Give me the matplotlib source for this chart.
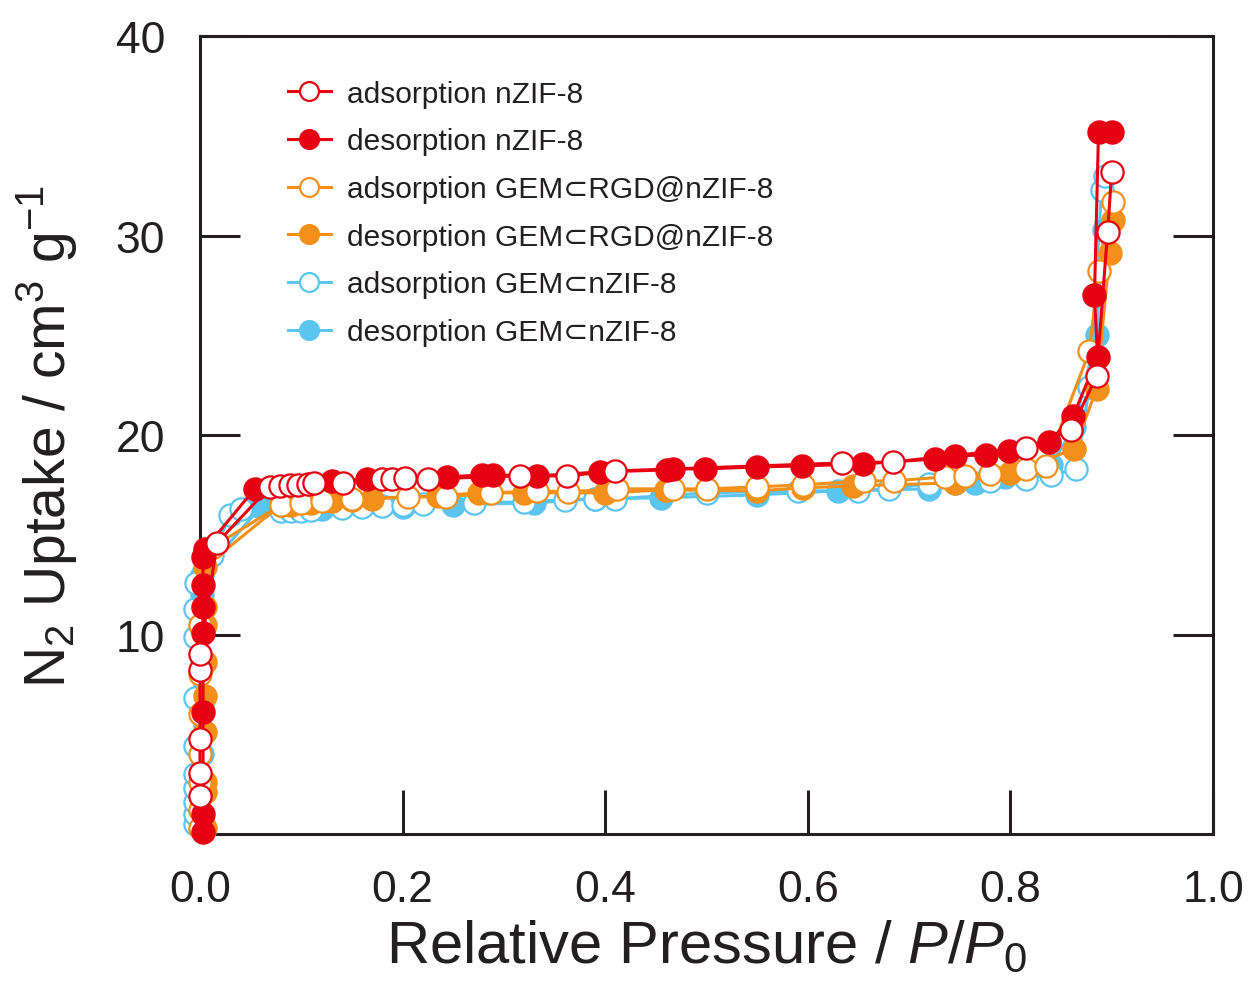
import matplotlib
matplotlib.use('Agg')
import matplotlib.pyplot as plt

plt.rcParams['font.family'] = ['Liberation Sans', 'DejaVu Sans']
plt.rcParams['mathtext.fontset'] = 'custom'
plt.rcParams['mathtext.rm'] = 'Liberation Sans'
plt.rcParams['mathtext.it'] = 'Liberation Sans:italic'

red = '#E60012'
orange = '#F39019'
blue = '#5BC5F0'

# nZIF-8
ads_red_x = [0.0, 0.0, 0.0, 0.0, 0.0, 0.017, 0.069, 0.079, 0.089, 0.097,
             0.107, 0.113, 0.141, 0.18, 0.19, 0.202, 0.225, 0.316, 0.362, 0.41,
             0.634, 0.684, 0.815, 0.86, 0.885, 0.896, 0.9]
ads_red_y = [1.9, 3.05, 4.75, 8.2, 9.0, 14.6, 17.4, 17.45, 17.5, 17.5,
             17.55, 17.6, 17.6, 17.8, 17.8, 17.85, 17.8, 17.95, 17.95, 18.2,
             18.6, 18.65, 19.35, 20.25, 22.95, 30.2, 33.2]
des_red_x = [0.9, 0.887, 0.883, 0.886, 0.862, 0.838, 0.799, 0.776, 0.745, 0.726,
             0.654, 0.594, 0.55, 0.499, 0.467, 0.461, 0.395, 0.333, 0.289, 0.278,
             0.244, 0.165, 0.13, 0.054, 0.005, 0.003, 0.003, 0.003, 0.003, 0.003,
             0.003, 0.003]
des_red_y = [35.2, 35.2, 27.0, 23.9, 20.95, 19.65, 19.2, 19.0, 18.95, 18.8,
             18.55, 18.45, 18.4, 18.3, 18.3, 18.25, 18.15, 17.95, 18.0, 18.0,
             17.9, 17.8, 17.7, 17.3, 14.3, 13.9, 12.5, 11.4, 10.1, 6.1,
             1.0, 0.1]

# GEM⊂RGD@nZIF-8
ads_or_x = [0.0, 0.0, 0.0, 0.0, 0.0, 0.0, 0.0, 0.013, 0.08, 0.1,
            0.12, 0.15, 0.205, 0.243, 0.287, 0.333, 0.363, 0.412, 0.467, 0.5,
            0.55, 0.595, 0.655, 0.685, 0.735, 0.755, 0.78, 0.815, 0.835, 0.878,
            0.887, 0.901]
ads_or_y = [0.3, 1.2, 2.6, 4.0, 6.0, 8.0, 10.5, 14.4, 16.5, 16.6,
            16.7, 16.8, 16.9, 16.9, 17.1, 17.2, 17.15, 17.3, 17.3, 17.3,
            17.4, 17.5, 17.7, 17.7, 17.9, 17.95, 18.05, 18.3, 18.45, 24.2,
            28.2, 31.7]
des_or_x = [0.901, 0.898, 0.885, 0.863, 0.8, 0.745, 0.645, 0.595, 0.55, 0.46,
            0.4, 0.32, 0.275, 0.235, 0.17, 0.15, 0.13, 0.11, 0.09, 0.08,
            0.005, 0.005, 0.005, 0.005, 0.005, 0.005, 0.005, 0.005, 0.005]
des_or_y = [30.8, 29.1, 22.3, 19.3, 18.1, 17.6, 17.45, 17.35, 17.2, 17.25,
            17.1, 17.1, 17.1, 16.95, 16.8, 16.75, 16.7, 16.6, 16.5, 16.5,
            13.4, 11.4, 10.5, 8.6, 6.9, 5.1, 2.6, 2.1, 0.3]

# GEM⊂nZIF-8
ads_bl_x = [-0.005, -0.005, -0.005, -0.005, -0.005, -0.005, -0.005, -0.005, -0.005, -0.004,
            0.012, 0.03, 0.04, 0.08, 0.09, 0.1, 0.11, 0.14, 0.16, 0.18,
            0.2, 0.22, 0.27, 0.32, 0.36, 0.39, 0.41, 0.5, 0.59, 0.65,
            0.68, 0.72, 0.745, 0.78, 0.815, 0.84, 0.865, 0.878, 0.89, 0.893]
ads_bl_y = [0.5, 1.0, 1.6, 2.3, 3.0, 4.4, 6.8, 9.9, 11.3, 12.6,
            14.0, 16.0, 16.3, 16.2, 16.2, 16.2, 16.25, 16.35, 16.4, 16.45,
            16.5, 16.55, 16.6, 16.65, 16.75, 16.8, 16.8, 17.1, 17.2, 17.2,
            17.3, 17.55, 17.6, 17.7, 17.8, 18.0, 18.3, 22.4, 32.3, 33.0]
des_bl_x = [0.892, 0.885, 0.863, 0.84, 0.795, 0.765, 0.72, 0.63, 0.55, 0.455,
            0.39, 0.33, 0.25, 0.2, 0.12, 0.06, 0.002, 0.002, 0.002, 0.002,
            0.002, 0.002, 0.002, 0.002]
des_bl_y = [30.3, 25.0, 20.4, 18.5, 17.9, 17.6, 17.3, 17.2, 17.0, 16.85,
            16.8, 16.6, 16.5, 16.4, 16.3, 16.4, 13.0, 12.0, 10.5, 8.5,
            6.5, 4.0, 2.0, 0.5]

labels = ['adsorption nZIF-8', 'desorption nZIF-8',
          'adsorption GEM\u2282RGD@nZIF-8', 'desorption GEM\u2282RGD@nZIF-8',
          'adsorption GEM\u2282nZIF-8', 'desorption GEM\u2282nZIF-8']

fig = plt.figure(figsize=(12.5, 9.95), dpi=100)
ax = fig.add_axes([0.16, 0.1608, 0.8104, 0.802])

ms = 16
lw = 2.2
mew = 1.6

def series(x, y, c, filled, label, z):
    fc = c if filled else 'white'
    ln, = ax.plot(x, y, '-o', color=c, lw=lw, ms=ms, mfc=fc, mec=c, mew=mew,
                  label=label, zorder=z, clip_on=False)
    return ln

h6 = series(des_bl_x, des_bl_y, blue, True, labels[5], 2)
h5 = series(ads_bl_x, ads_bl_y, blue, False, labels[4], 3)
h4 = series(des_or_x, des_or_y, orange, True, labels[3], 4)
h3 = series(ads_or_x, ads_or_y, orange, False, labels[2], 5)
h2 = series(des_red_x, des_red_y, red, True, labels[1], 6)
h1 = series(ads_red_x, ads_red_y, red, False, labels[0], 7)

ax.set_xlim(0, 1)
ax.set_ylim(0, 40)
ax.set_xticks([0, 0.2, 0.4, 0.6, 0.8, 1.0])
ax.set_xticklabels(['0.0', '0.2', '0.4', '0.6', '0.8', '1.0'])
ax.set_yticks([10, 20, 30, 40])
ax.tick_params(axis='y', direction='in', length=29, width=2.2, labelsize=32,
               pad=25, right=True, colors='#231F20')
ax.tick_params(axis='x', direction='in', length=32, width=2.2, labelsize=32,
               pad=25, colors='#231F20')
for s in ax.spines.values():
    s.set_linewidth(2.2)
    s.set_color('#231F20')

ax.set_xlabel('Relative Pressure / $P$/$P_0$', fontsize=43, color='#231F20',
              labelpad=6)
ax.set_ylabel('N$_2$ Uptake / cm$^3$ g$^{-1}$', fontsize=41, color='#231F20',
              labelpad=26)

leg = ax.legend(handles=[h1, h2, h3, h4, h5, h6], loc='upper left',
                bbox_to_anchor=(0.06, 0.979), frameon=False, fontsize=21.5,
                handlelength=1.45, handletextpad=0.55, labelspacing=0.66,
                markerscale=0.85)
for t in leg.get_texts():
    t.set_color('#231F20')

fig.savefig('out.png', dpi=100)
